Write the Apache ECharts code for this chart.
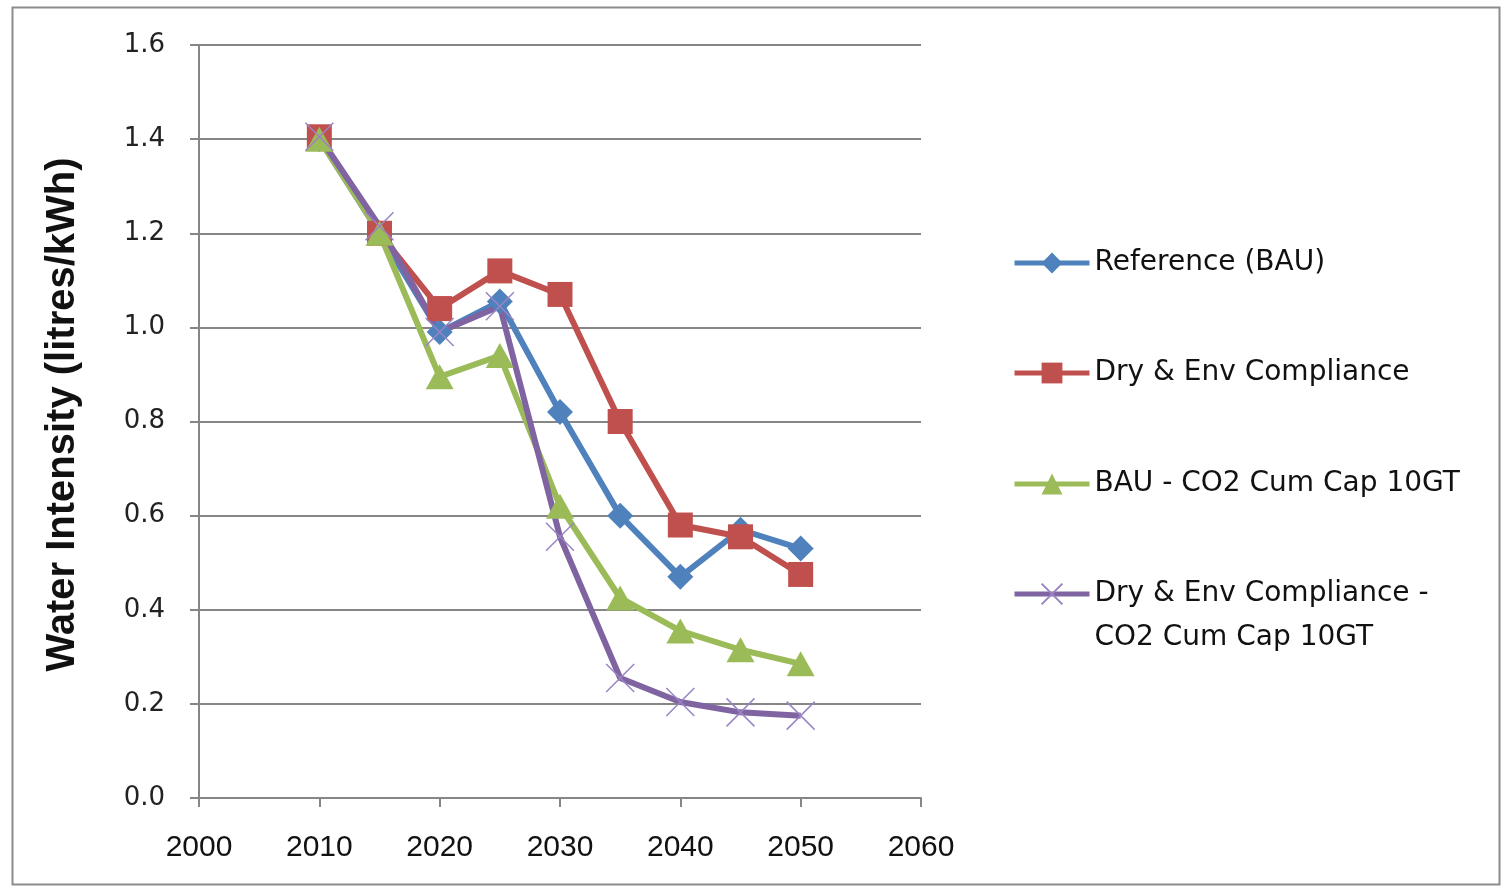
<!DOCTYPE html>
<html>
<head>
<meta charset="utf-8">
<script src="https://cdn.jsdelivr.net/npm/echarts@6/dist/echarts.min.js"></script>
<style>
html,body{margin:0;padding:0;background:#fff;}
#c{width:1502px;height:887px;}
</style>
</head>
<body>
<div id="c"></div>
<script>
var years = [2010, 2015, 2020, 2025, 2030, 2035, 2040, 2045, 2050];
var seriesNames = ['Reference (BAU)', 'Dry & Env Compliance', 'BAU - CO2 Cum Cap 10GT', 'Dry & Env Compliance -\nCO2 Cum Cap 10GT'];
var refBAU   = [1.40, 1.20, 0.99, 1.055, 0.82, 0.60, 0.47, 0.57, 0.53];
var dryEnv   = [1.405, 1.20, 1.04, 1.12, 1.07, 0.80, 0.58, 0.555, 0.475];
var bauCO2   = [1.40, 1.20, 0.895, 0.94, 0.62, 0.425, 0.355, 0.315, 0.285];
var dryCO2   = [1.405, 1.215, 0.99, 1.045, 0.555, 0.255, 0.204, 0.182, 0.175];
var yTicks = [0, 0.2, 0.4, 0.6, 0.8, 1.0, 1.2, 1.4, 1.6];
var xTicks = [2000, 2010, 2020, 2030, 2040, 2050, 2060];

function pairs(vals){ return years.map(function(y,i){ return [y, vals[i]]; }); }

var colors = ['#4F81BD', '#C0504D', '#9BBB59', '#8064A2'];
var xPath = 'path://M0,0L10,10M10,0L0,10';

var chart = echarts.init(document.getElementById('c'));
var legendTextStyle = {fontFamily: 'DejaVu Sans', fontSize: 28, color: '#111', lineHeight: 44};
function legendAt(name, top){
  return {
    orient: 'vertical', left: 1012, top: top, padding: 0,
    itemWidth: 75, itemHeight: 26, itemGap: 0,
    data: [name],
    lineStyle: {width: 5},
    textStyle: legendTextStyle,
    formatter: function(n){ return n.indexOf('\n') >= 0 ? '\u00a0\n' + n : n; }
  };
}
var option = {
  backgroundColor: '#fff',
  animation: false,
  graphic: [{
    type: 'rect', left: 10, top: 5, z: -10,
    shape: {x: 0, y: 0, width: 1487, height: 877},
    style: {fill: 'none', stroke: '#8c8c8c', lineWidth: 2}
  }],
  grid: {left: 199, right: 581, top: 45, bottom: 89},
  legend: [
    legendAt(seriesNames[0], 260 - 19),
    legendAt(seriesNames[1], 370 - 19),
    legendAt(seriesNames[2], 481 - 19),
    legendAt(seriesNames[3], 591 - 63)
  ],
  xAxis: {
    type: 'value', min: 2000, max: 2060, interval: 10,
    axisLine: {show: true, lineStyle: {color: '#868686', width: 2}},
    axisTick: {show: true, length: 9, lineStyle: {color: '#868686', width: 2}},
    splitLine: {show: false},
    axisLabel: {
      margin: 35, color: '#111', fontSize: 30, fontFamily: 'Liberation Sans',
      formatter: function(v){ return xTicks.indexOf(v) >= 0 ? String(v) : ''; }
    }
  },
  yAxis: {
    type: 'value', min: 0, max: 1.6, interval: 0.2,
    name: 'Water Intensity (litres/kWh)', nameLocation: 'middle', nameGap: 116,
    nameTextStyle: {fontFamily: 'Liberation Sans', fontWeight: 'bold', fontSize: 40, color: '#111', padding: [0, 0, 0, 14]},
    axisLine: {show: true, lineStyle: {color: '#868686', width: 2}},
    axisTick: {show: true, length: 9, lineStyle: {color: '#868686', width: 2}},
    splitLine: {show: true, lineStyle: {color: '#868686', width: 2}},
    axisLabel: {
      margin: 34, color: '#222', fontSize: 26, fontFamily: 'DejaVu Sans',
      formatter: function(v){ return v.toFixed(1); }
    }
  },
  series: [
    {name: seriesNames[0], type: 'line', data: pairs(refBAU), symbol: 'diamond', symbolSize: 26,
     lineStyle: {color: colors[0], width: 6}, itemStyle: {color: colors[0]}},
    {name: seriesNames[1], type: 'line', data: pairs(dryEnv), symbol: 'rect', symbolSize: 25,
     lineStyle: {color: colors[1], width: 6}, itemStyle: {color: colors[1]}},
    {name: seriesNames[2], type: 'line', data: pairs(bauCO2), symbol: 'triangle', symbolSize: [28, 25],
     lineStyle: {color: colors[2], width: 6}, itemStyle: {color: colors[2]}},
    {name: seriesNames[3], type: 'line', data: pairs(dryCO2), symbol: xPath, symbolSize: 28,
     lineStyle: {color: colors[3], width: 6}, itemStyle: {color: colors[3], borderColor: '#9a84c4', borderWidth: 1.5}}
  ]
};
chart.setOption(option);
</script>
</body>
</html>
